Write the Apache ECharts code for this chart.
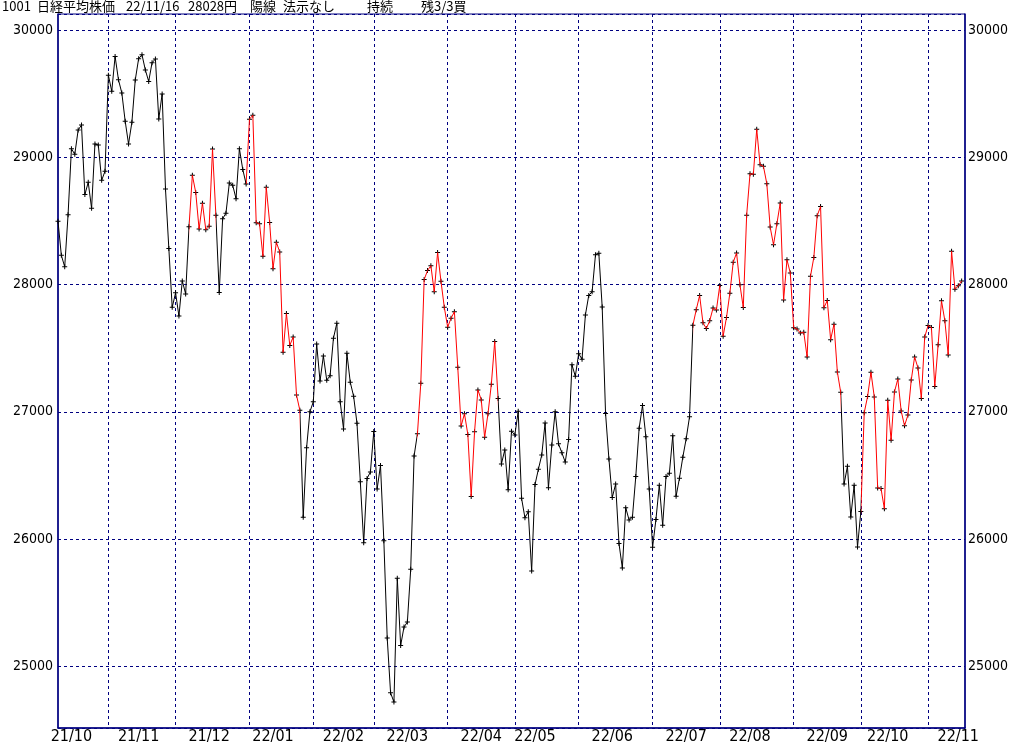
<!DOCTYPE html>
<html><head><meta charset="utf-8">
<script src="https://cdn.jsdelivr.net/npm/echarts@6/dist/echarts.min.js"></script>
<style>html,body{margin:0;padding:0;background:#fff}#c{width:1024px;height:745px}</style>
</head><body><div id="c"></div>
<script>
// trading days (yy/mm/dd)
const dates = [
'21/10/11','21/10/12','21/10/13','21/10/14','21/10/15','21/10/18','21/10/19','21/10/20','21/10/21','21/10/22','21/10/25','21/10/26','21/10/27','21/10/28','21/10/29',
'21/11/01','21/11/02','21/11/04','21/11/05','21/11/08','21/11/09','21/11/10','21/11/11','21/11/12','21/11/15','21/11/16','21/11/17','21/11/18','21/11/19','21/11/22','21/11/24','21/11/25','21/11/26','21/11/29','21/11/30',
'21/12/01','21/12/02','21/12/03','21/12/06','21/12/07','21/12/08','21/12/09','21/12/10','21/12/13','21/12/14','21/12/15','21/12/16','21/12/17','21/12/20','21/12/21','21/12/22','21/12/23','21/12/24','21/12/27','21/12/28','21/12/29','21/12/30',
'22/01/04','22/01/05','22/01/06','22/01/07','22/01/11','22/01/12','22/01/13','22/01/14','22/01/17','22/01/18','22/01/19','22/01/20','22/01/21','22/01/24','22/01/25','22/01/26','22/01/27','22/01/28','22/01/31',
'22/02/01','22/02/02','22/02/03','22/02/04','22/02/07','22/02/08','22/02/09','22/02/10','22/02/14','22/02/15','22/02/16','22/02/17','22/02/18','22/02/21','22/02/22','22/02/24','22/02/25','22/02/28',
'22/03/01','22/03/02','22/03/03','22/03/04','22/03/07','22/03/08','22/03/09','22/03/10','22/03/11','22/03/14','22/03/15','22/03/16','22/03/17','22/03/18','22/03/22','22/03/23','22/03/24','22/03/25','22/03/28','22/03/29','22/03/30','22/03/31',
'22/04/01','22/04/04','22/04/05','22/04/06','22/04/07','22/04/08','22/04/11','22/04/12','22/04/13','22/04/14','22/04/15','22/04/18','22/04/19','22/04/20','22/04/21','22/04/22','22/04/25','22/04/26','22/04/27','22/04/28',
'22/05/02','22/05/06','22/05/09','22/05/10','22/05/11','22/05/12','22/05/13','22/05/16','22/05/17','22/05/18','22/05/19','22/05/20','22/05/23','22/05/24','22/05/25','22/05/26','22/05/27','22/05/30','22/05/31',
'22/06/01','22/06/02','22/06/03','22/06/06','22/06/07','22/06/08','22/06/09','22/06/10','22/06/13','22/06/14','22/06/15','22/06/16','22/06/17','22/06/20','22/06/21','22/06/22','22/06/23','22/06/24','22/06/27','22/06/28','22/06/29','22/06/30',
'22/07/01','22/07/04','22/07/05','22/07/06','22/07/07','22/07/08','22/07/11','22/07/12','22/07/13','22/07/14','22/07/15','22/07/19','22/07/20','22/07/21','22/07/22','22/07/25','22/07/26','22/07/27','22/07/28','22/07/29',
'22/08/01','22/08/02','22/08/03','22/08/04','22/08/05','22/08/08','22/08/09','22/08/10','22/08/12','22/08/15','22/08/16','22/08/17','22/08/18','22/08/19','22/08/22','22/08/23','22/08/24','22/08/25','22/08/26','22/08/29','22/08/30','22/08/31',
'22/09/01','22/09/02','22/09/05','22/09/06','22/09/07','22/09/08','22/09/09','22/09/12','22/09/13','22/09/14','22/09/15','22/09/16','22/09/20','22/09/21','22/09/22','22/09/26','22/09/27','22/09/28','22/09/29','22/09/30',
'22/10/03','22/10/04','22/10/05','22/10/06','22/10/07','22/10/11','22/10/12','22/10/13','22/10/14','22/10/17','22/10/18','22/10/19','22/10/20','22/10/21','22/10/24','22/10/25','22/10/26','22/10/27','22/10/28','22/10/31',
'22/11/01','22/11/02','22/11/04','22/11/07','22/11/08','22/11/09','22/11/10','22/11/11','22/11/14','22/11/15','22/11/16'
];
// closing prices (yen)
const closes = [
28498,28230,28140,28550,29068,29025,29215,29255,28708,28804,28600,29106,29098,28820,28892,
29647,29520,29794,29611,29507,29285,29106,29277,29609,29776,29808,29688,29598,29745,29774,29302,29499,28751,28283,27821,
27935,27753,28029,27927,28455,28860,28725,28437,28640,28432,28459,29066,28545,27937,28517,28562,28798,28782,28676,29069,28906,28791,
29301,29332,28487,28478,28222,28765,28489,28124,28333,28257,27467,27772,27522,27588,27131,27011,26170,26717,27001,
27078,27533,27241,27439,27248,27284,27579,27696,27079,26865,27460,27232,27122,26910,26449,25970,26476,26526,
26844,26393,26577,25985,25221,24790,24717,25690,25162,25307,25346,25762,26652,26827,27224,28040,28110,28149,27943,28252,28027,27821,
27665,27736,27787,27350,26888,26985,26821,26334,26843,27172,27093,26799,26985,27217,27553,27105,26590,26700,26386,26847,
26818,27003,26319,26167,26213,25748,26427,26547,26659,26911,26402,26739,27001,26748,26677,26604,26781,27369,27279,
27457,27413,27761,27915,27943,28234,28246,27824,26987,26629,26326,26431,25963,25771,26246,26149,26171,26491,26871,27049,26804,26393,
25935,26153,26423,26107,26490,26517,26812,26336,26478,26643,26788,26961,27680,27803,27914,27699,27655,27715,27815,27801,
27993,27594,27741,27932,28175,28249,27999,27819,28546,28871,28868,29222,28942,28930,28794,28452,28313,28479,28641,27878,28195,28091,
27661,27650,27619,27626,27430,28065,28214,28542,28614,27818,27875,27567,27688,27313,27153,26431,26571,26173,26422,25937,
26215,26992,27120,27311,27116,26401,26396,26237,27090,26775,27156,27257,27006,26890,26974,27250,27431,27345,27105,27587,
27678,27663,27199,27527,27872,27716,27446,28263,27963,27990,28028
];
// spans drawn in red (start date, end date)
const redSpans = [
['21/12/07','21/12/17'],
['21/12/30','22/01/26'],
['22/03/18','22/04/22'],
['22/07/20','22/09/22'],
['22/10/03','22/11/16']
];
const titleTexts = ['1001','日経平均株価','22/11/16','28028円','陽線','法示なし','持続','残3/3買'];

// ---- rendering ----
const NAVY = '#000080';
const monthStart = i => i > 0 && i < dates.length && dates[i].slice(0,5) !== dates[i-1].slice(0,5);
const midMonth = i => {
  if (i >= dates.length) return false;
  const d = +dates[i].slice(6), m = dates[i].slice(0,5);
  const n = dates[i+1];
  return d <= 15 && (!n || n.slice(0,5) !== m || +n.slice(6) > 15);
};
const titleX = [2,37,126,188,250,283,367,421];
const pieces = redSpans.map(([a,b]) => ({gte: dates.indexOf(a), lte: dates.indexOf(b), color: '#ff0000'}));
const numFont = "'Liberation Sans Narrow','DejaVu Sans Condensed',sans-serif";
const yAxisBase = {
  type: 'value', min: 24513, max: 30128, splitNumber: 5,
  axisLine: {show: true, lineStyle: {color: NAVY, width: 1.5}},
  axisTick: {show: false},
  axisLabel: {color: '#000', fontFamily: numFont, fontSize: 14, showMinLabel: false, showMaxLabel: false, formatter: v => String(v)},
};
const chart = echarts.init(document.getElementById('c'), null, {renderer: 'canvas'});
chart.setOption({
  animation: false,
  backgroundColor: '#fff',
  grid: {left: 58, right: 59, top: 14, bottom: 14.5, show: true, borderColor: NAVY, borderWidth: 1, backgroundColor: 'transparent'},
  xAxis: {
    type: 'category', data: dates, boundaryGap: false, max: dates.length,
    axisLine: {show: true, lineStyle: {color: NAVY, width: 1.5}},
    axisTick: {show: false},
    splitLine: {show: true, interval: (i) => monthStart(i), lineStyle: {color: NAVY, type: [3, 3], width: 1}},
    axisLabel: {
      interval: (i) => midMonth(i),
      formatter: v => v ? v.slice(0,5) : '',
      color: '#000', fontFamily: numFont, fontSize: 16, margin: 1, hideOverlap: false
    }
  },
  yAxis: [
    Object.assign({}, yAxisBase, {position: 'left',
      splitLine: {show: true, lineStyle: {color: NAVY, type: [3, 3], width: 1}},
      axisLabel: Object.assign({}, yAxisBase.axisLabel, {margin: 5})}),
    Object.assign({}, yAxisBase, {position: 'right', splitLine: {show: false},
      axisLabel: Object.assign({}, yAxisBase.axisLabel, {margin: 3})})
  ],
  visualMap: {show: false, type: 'piecewise', dimension: 0, seriesIndex: 0, pieces: pieces, outOfRange: {color: '#000000'}},
  series: [
    {type: 'line', data: closes, showSymbol: false, symbol: 'none', lineStyle: {width: 1}, silent: true},
    {type: 'scatter', data: closes, symbol: 'path://M2,0H3V5H2ZM0,2H5V3H0Z', symbolSize: 5, itemStyle: {color: '#000', opacity: 1}, silent: true}
  ],
  graphic: titleTexts.map((t, k) => ({
    type: 'text', left: titleX[k], top: 0,
    style: {text: t, fill: '#000', font: "13px 'Noto Sans CJK JP'"}
  }))
});
</script></body></html>
